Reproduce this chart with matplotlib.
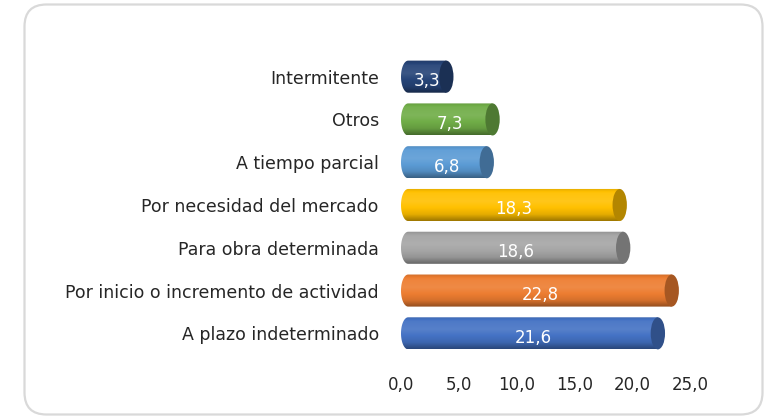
import numpy as np
import matplotlib.pyplot as plt
from matplotlib.path import Path
from matplotlib.patches import PathPatch, Ellipse, FancyBboxPatch
from matplotlib.colors import to_rgb

# Data (bottom to top)
categories = ["A plazo indeterminado", "Por inicio o incremento de actividad",
              "Para obra determinada", "Por necesidad del mercado",
              "A tiempo parcial", "Otros", "Intermitente"]
values = [21.6, 22.8, 18.6, 18.3, 6.8, 7.3, 3.3]
colors = ["#4472C4", "#ED7D31", "#A5A5A5", "#FFC000",
          "#5B9BD5", "#70AD47", "#264478"]
xticks = [0, 5, 10, 15, 20, 25]

W, H = 766, 417
fig = plt.figure(figsize=(W/100, H/100), dpi=100)

# rounded frame around the chart
frame = FancyBboxPatch((0.245, 0.025), 7.38, 4.10,
                       boxstyle="round,pad=0,rounding_size=0.22",
                       transform=fig.dpi_scale_trans, fc="none",
                       ec="#D9D9D9", lw=1.6, zorder=-1)
fig.patches.append(frame)

ax_left, ax_bottom = 401/W, 58/H
ax_w, ax_h = (25.5*11.56)/W, 308/H
ax = fig.add_axes([ax_left, ax_bottom, ax_w, ax_h])

h = 0.75
rx = 0.62  # half width of the end ellipses, data units


def shade(c, f):
    c = np.array(to_rgb(c))
    if f >= 0:
        return c + (1 - c)*f
    return c*(1 + f)


for i, (v, c) in enumerate(zip(values, colors)):
    y0, y1 = i - h/2, i + h/2
    x_end = v + rx
    t = np.linspace(np.pi/2, 3*np.pi/2, 40)
    left = np.column_stack([rx + rx*np.cos(t), i + (h/2)*np.sin(t)])
    verts = np.vstack([left, [[x_end, y0], [x_end, y1], left[0]]])
    codes = [Path.MOVETO] + [Path.LINETO]*(len(verts) - 2) + [Path.CLOSEPOLY]
    body = PathPatch(Path(verts, codes), fc="none", ec="none",
                     transform=ax.transData)
    # vertical gradient for a cylinder look
    s = np.linspace(0, 1, 64)
    f = np.interp(s, [0, 0.2, 0.6, 0.85, 1.0],
                  [-0.38, -0.1, 0.1, 0.05, -0.12])
    grad = np.array([shade(c, k) for k in f])[:, None, :]
    im = ax.imshow(grad, extent=[0, x_end, y0, y1], aspect="auto",
                   origin="lower", zorder=2, interpolation="bilinear")
    im.set_clip_path(body)
    cap = Ellipse((x_end, i), 2*rx, h, fc=shade(c, -0.3), ec="none",
                  zorder=3, clip_on=False)
    ax.add_patch(cap)
    ax.text(x_end/2 + 0.3, i - 0.1, f"{v:.1f}".replace(".", ","),
            color="white", ha="center", va="center", fontsize=12, zorder=4)

ax.set_xlim(0, 25.5)
ax.set_ylim(-0.6, 6.6)
ax.set_xticks(xticks)
ax.set_xticklabels([f"{x:.1f}".replace(".", ",") for x in xticks],
                   fontsize=12, color="#262626")
ax.set_yticks(range(len(categories)))
ax.set_yticklabels(categories, fontsize=12.5, color="#262626")
ax.tick_params(axis="x", length=0, pad=12)
ax.tick_params(axis="y", length=0, pad=16)
for sp in ax.spines.values():
    sp.set_visible(False)
ax.patch.set_alpha(0)

fig.savefig("out.png", dpi=100)
